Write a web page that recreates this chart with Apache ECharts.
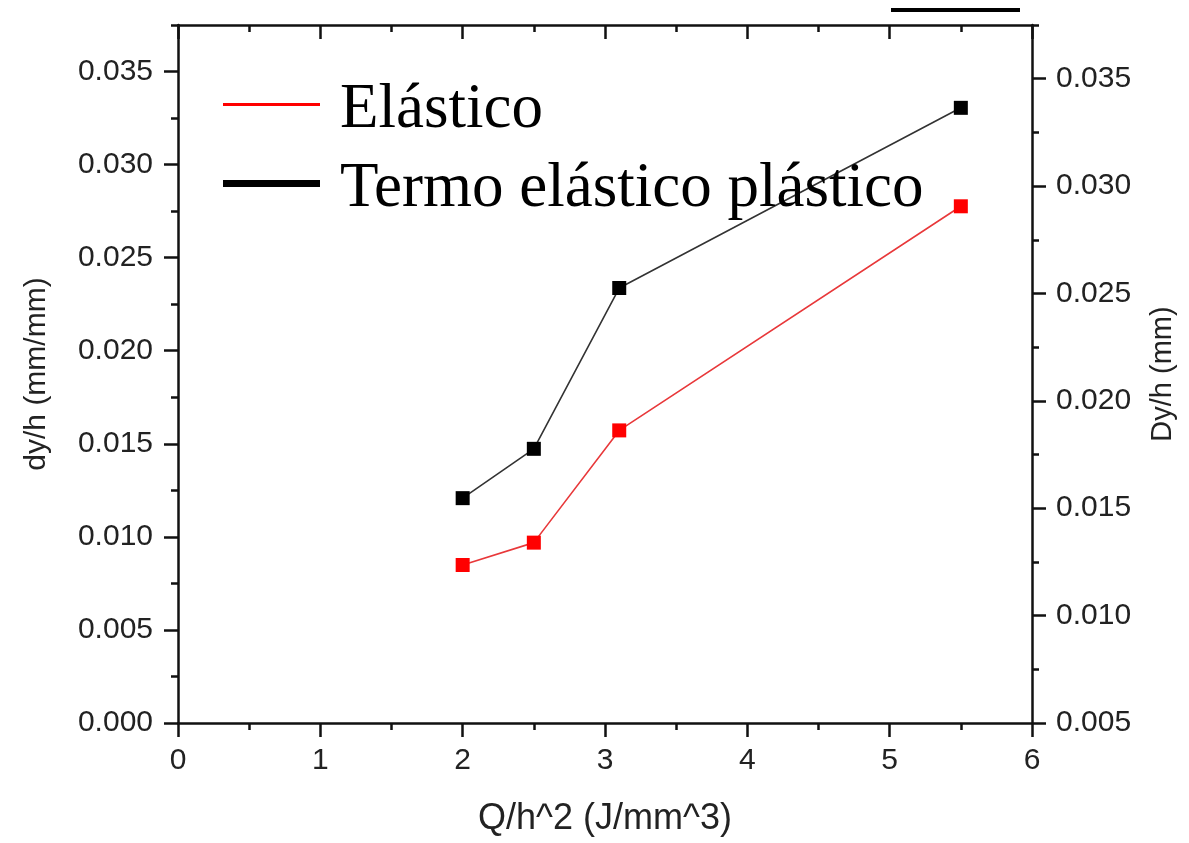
<!DOCTYPE html>
<html>
<head>
<meta charset="utf-8">
<script src="https://cdn.jsdelivr.net/npm/echarts@6/dist/echarts.min.js"></script>
<style>
  html, body { margin: 0; padding: 0; background: #fff; }
  #chart { width: 1189px; height: 843px; }
</style>
</head>
<body>
<div id="chart"></div>
<script>
// Heat input per squared thickness (J/mm^3)
const qValues = [2.0, 2.5, 3.1, 5.5];
// Normalised displacement, elastic model
const elastico = [0.00849, 0.00969, 0.01572, 0.02776];
// Normalised displacement, thermo-elastic-plastic model
const termo = [0.01208, 0.01473, 0.02337, 0.03305];

// Labelled tick values on both vertical axes
const leftTicks = [0, 0.005, 0.010, 0.015, 0.020, 0.025, 0.030, 0.035];
const rightTicks = [0.005, 0.010, 0.015, 0.020, 0.025, 0.030, 0.035];

const seriesNames = ['Elástico', 'Termo elástico plástico'];

const axisColor = '#111';
const sans = 'Liberation Sans';

function pairs(ys) {
  return qValues.map((q, i) => [q, ys[i]]);
}

const chart = echarts.init(document.getElementById('chart'), null, { renderer: 'canvas' });

const yMax = 0.0375;
const tickLine = { color: axisColor, width: 2.5 };

// legend entries: rich text so the label can sit a little lower than the swatch
const legendText = {
  fontFamily: 'Liberation Serif', fontSize: 63, color: '#000',
  rich: {
    t: { fontFamily: 'Liberation Serif', fontSize: 63, color: '#000', padding: [12, 0, 0, 15] }
  }
};

const option = {
  backgroundColor: '#fff',
  animation: false,
  grid: { left: 178, right: 157, top: 25, bottom: 120, containLabel: false },
  legend: [
    {
      data: [seriesNames[0]],
      left: 223, top: 79, padding: 0,
      icon: 'rect', itemWidth: 97, itemHeight: 3,
      formatter: n => '{t|' + n + '}',
      textStyle: legendText
    },
    {
      data: [seriesNames[1]],
      left: 223, top: 158, padding: 0,
      icon: 'rect', itemWidth: 97, itemHeight: 7,
      formatter: n => '{t|' + n + '}',
      textStyle: legendText
    }
  ],
  xAxis: [
    {
      type: 'value', position: 'bottom', min: 0, max: 6, interval: 1,
      name: 'Q/h^2 (J/mm^3)', nameLocation: 'middle', nameGap: 78,
      nameTextStyle: { fontFamily: sans, fontSize: 36, color: '#222' },
      axisLine: { show: true, onZero: false, lineStyle: tickLine },
      axisTick: { show: true, length: 14, lineStyle: tickLine },
      minorTick: { show: true, splitNumber: 2, length: 7, lineStyle: tickLine },
      axisLabel: { fontFamily: sans, fontSize: 30, color: '#222', margin: 23 },
      splitLine: { show: false }
    },
    {
      type: 'value', position: 'top', min: 0, max: 6, interval: 1,
      axisLine: { show: true, onZero: false, lineStyle: tickLine },
      axisTick: { show: true, inside: true, length: 14, lineStyle: tickLine },
      minorTick: { show: true, splitNumber: 2, length: 7, lineStyle: tickLine },
      axisLabel: { show: false },
      splitLine: { show: false }
    }
  ],
  yAxis: [
    {
      type: 'value', position: 'left', min: 0, max: yMax, interval: 0.005,
      name: 'dy/h (mm/mm)', nameLocation: 'middle', nameGap: 126, nameRotate: 90,
      nameTextStyle: { fontFamily: sans, fontSize: 30, color: '#222' },
      axisLine: { show: true, onZero: false, lineStyle: tickLine },
      axisTick: { show: true, length: 14, customValues: leftTicks, lineStyle: tickLine },
      axisLabel: {
        fontFamily: sans, fontSize: 30, color: '#222', margin: 25,
        customValues: leftTicks, formatter: v => v.toFixed(3)
      },
      splitLine: { show: false }
    },
    {
      type: 'value', position: 'right', min: 0.005, max: yMax, interval: 0.005,
      name: 'Dy/h (mm)', nameLocation: 'middle', nameGap: 116, nameRotate: 90,
      nameTextStyle: { fontFamily: sans, fontSize: 29, color: '#222' },
      axisLine: { show: true, onZero: false, lineStyle: tickLine },
      axisTick: { show: true, length: 14, customValues: rightTicks, lineStyle: tickLine },
      axisLabel: {
        fontFamily: sans, fontSize: 30, color: '#222', margin: 24,
        customValues: rightTicks, formatter: v => v.toFixed(3)
      },
      splitLine: { show: false }
    },
    // half-step ticks on the left scale
    {
      type: 'value', position: 'left', min: 0, max: yMax, interval: 0.0025,
      axisLine: { show: false, onZero: false },
      axisTick: { show: true, length: 7, lineStyle: tickLine },
      axisLabel: { show: false },
      splitLine: { show: false }
    },
    // half-step ticks on the right scale
    {
      type: 'value', position: 'right', min: 0.005, max: yMax, interval: 0.0025,
      axisLine: { show: false, onZero: false },
      axisTick: { show: true, length: 7, lineStyle: tickLine },
      axisLabel: { show: false },
      splitLine: { show: false }
    }
  ],
  graphic: [
    {
      type: 'line', z: 10,
      shape: { x1: 891, y1: 10, x2: 1020, y2: 10 },
      style: { stroke: '#000', lineWidth: 4 }
    }
  ],
  series: [
    {
      name: seriesNames[0], type: 'line', xAxisIndex: 0, yAxisIndex: 0,
      data: pairs(elastico),
      symbol: 'rect', symbolSize: 14,
      itemStyle: { color: '#ff0000' },
      lineStyle: { color: '#e8383a', width: 1.6 },
      z: 3
    },
    {
      name: seriesNames[1], type: 'line', xAxisIndex: 0, yAxisIndex: 0,
      data: pairs(termo),
      symbol: 'rect', symbolSize: 14,
      itemStyle: { color: '#000' },
      lineStyle: { color: '#333', width: 1.6 },
      z: 3
    }
  ]
};

chart.setOption(option);
</script>
</body>
</html>
